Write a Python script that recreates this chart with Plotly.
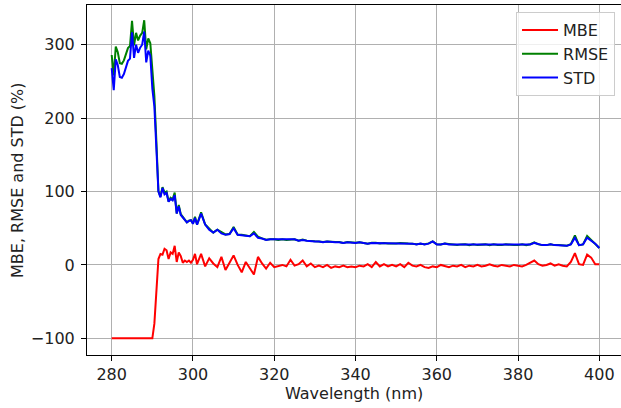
import numpy as np
import plotly.graph_objects as go

# Wavelength grid: 0.5 nm steps 280-300.5, then 1 nm steps 301-400
wavelength = list(np.arange(280.0, 301.0, 0.5)) + list(np.arange(301.0, 401.0, 1.0))

mbe = [
    -100, -100, -100, -100, -100, -100, -100, -100, -100, -100,
    -100, -100, -100, -100, -100, -100, -100, -100, -100, -100,
    -100, -80, -30, 8, 15, 14, 22, 20, 8, 17,
    15, 26, 4, 17, 12, 3, 6, 4, 6, 3,
    7, 15,
    1, 15, -2, 9, 2, -3, 11, -7, 3, 13,
    0, -10, 4, -4, -13, 11, 2, -5, 3, -3,
    -1, 0, -2, 7, -1, 1, 6, -2, 2, -3,
    -1, -3, 0, -4, -2, -3, -1, -3, -2, -3,
    -1, -2, 1, -3, 4, -2, 1, -2, 0, -2,
    1, -3, 3, -1, -2, 0, -3, -4, -2, -3,
    0, -2, -3, -1, -2, 0, -3, -1, -2, 0,
    -2, -1, 1, -1, -2, 0, -1, -2, 0, -1,
    -2, 0, 3, 6, 1, -1, 0, 2, -1, 1,
    -1, -2, 4, 16, 1, 0, 14, 10, 1, 1,
]

std = [
    268, 238, 280, 272, 256, 255, 260, 270, 278, 281,
    317, 282, 300, 289, 296, 300, 318, 276, 292, 285,
    240, 216, 165, 100, 92, 105, 96, 98, 86, 90,
    88, 95, 70, 80, 68, 65, 61, 58, 60, 61,
    56, 64,
    55, 70, 55, 48, 44, 48, 43, 41, 42, 50,
    41, 40, 40, 39, 43, 37, 36, 34, 35, 35,
    34, 35, 34, 34, 35, 33, 34, 33, 32, 32,
    32, 31, 32, 31, 31, 31, 30, 31, 30, 30,
    31, 30, 29, 30, 30, 29, 30, 29, 29, 29,
    30, 29, 29, 29, 28, 29, 28, 29, 32, 28,
    28, 29, 28, 28, 27, 28, 28, 27, 28, 27,
    27, 28, 27, 28, 27, 27, 28, 27, 27, 27,
    28, 27, 28, 30, 28, 27, 27, 28, 27, 27,
    27, 26, 28, 37, 27, 28, 37, 33, 29, 23,
]

rmse = [
    286.0, 258.2, 297.3, 289.8, 274.8, 273.9, 278.6, 287.9, 295.4, 298.3,
    332.4, 299.2, 316.2, 305.8, 312.4, 316.2, 333.4, 293.6, 308.6, 302.0,
    260.0, 230.3, 167.7, 100.3, 93.2, 105.9, 98.5, 100.0, 86.4, 91.6,
    89.3, 98.5, 70.1, 81.8, 69.1, 65.1, 61.3, 58.1, 60.3, 61.1,
    56.4, 65.7,
    55.0, 71.6, 55.0, 48.8, 44.0, 48.1, 44.4, 41.6, 42.1, 51.7,
    41.0, 41.2, 40.2, 39.2, 44.9, 38.6, 36.1, 34.4, 35.1, 35.1,
    34.0, 35.0, 34.1, 34.7, 35.0, 33.0, 34.5, 33.1, 32.1, 32.1,
    32.0, 31.1, 32.0, 31.3, 31.1, 31.1, 30.0, 31.1, 30.1, 30.1,
    31.0, 30.1, 29.0, 30.1, 30.3, 29.1, 30.0, 29.1, 29.0, 29.1,
    30.0, 29.2, 29.2, 29.0, 28.1, 29.0, 28.2, 29.3, 32.1, 28.2,
    28.0, 29.1, 28.2, 28.0, 27.1, 28.0, 28.2, 27.0, 28.1, 27.0,
    27.1, 28.0, 27.0, 28.0, 27.1, 27.0, 28.0, 27.1, 27.0, 27.0,
    28.1, 27.0, 28.2, 30.6, 28.0, 27.0, 27.0, 28.1, 27.0, 27.0,
    27.0, 26.1, 28.3, 40.3, 27.0, 28.0, 39.6, 34.5, 29.0, 23.0,
]

x_ticks = [280, 300, 320, 340, 360, 380, 400]
y_ticks = [-100, 0, 100, 200, 300]
y_tick_text = ["\u2212100", "0", "100", "200", "300"]
x_title = "Wavelength (nm)"
y_title = "MBE, RMSE and STD (%)"

FONT = "DejaVu Sans"
FS = 16
TXT = "#222222"

fig = go.Figure()
series = [("MBE", mbe, "#ff0000"), ("RMSE", rmse, "#008000"), ("STD", std, "#0000ff")]
for name, vals, col in series:
    fig.add_trace(go.Scatter(
        x=wavelength, y=vals, mode="lines", name=name, legendgroup=name,
        line=dict(color=col, width=2),
    ))

axis_common = dict(
    showgrid=True, gridcolor="#b0b0b0", gridwidth=1,
    showline=True, linecolor="black", linewidth=1, mirror=True,
    ticks="outside", ticklen=5, tickwidth=1, tickcolor="black",
    zeroline=False, automargin=False,
    tickfont=dict(family=FONT, size=FS, color=TXT),
)

fig.update_layout(
    width=621, height=408,
    margin=dict(l=87, r=0, t=5, b=53, autoexpand=False),
    paper_bgcolor="white", plot_bgcolor="white",
    font=dict(family=FONT, size=FS, color=TXT),
    showlegend=True,
    legend=dict(
        x=0.9888, y=0.98, xanchor="right", yanchor="top",
        bgcolor="rgba(255,255,255,0.8)", bordercolor="#cccccc", borderwidth=1,
        font=dict(family=FONT, size=FS, color=TXT),
        tracegroupgap=0, itemwidth=36,
    ),
    xaxis=dict(range=[273.92, 405.34], tickvals=x_ticks, **axis_common),
    yaxis=dict(range=[-122.7, 354.1], tickvals=y_ticks, ticktext=y_tick_text,
               ticklabelstandoff=3, **axis_common),
    annotations=[
        dict(text=x_title, xref="paper", yref="paper", x=0.5, y=-0.1086,
             xanchor="center", yanchor="middle", showarrow=False,
             font=dict(family=FONT, size=FS, color=TXT)),
        dict(text=y_title, xref="paper", yref="paper", x=-0.1311, y=0.5,
             xanchor="center", yanchor="middle", showarrow=False, textangle=-90,
             font=dict(family=FONT, size=FS, color=TXT)),
    ],
)

fig.write_html(
    "out.html",
    config={"displayModeBar": False},
    post_script="document.body.style.margin='0';document.body.style.overflow='hidden';",
)
